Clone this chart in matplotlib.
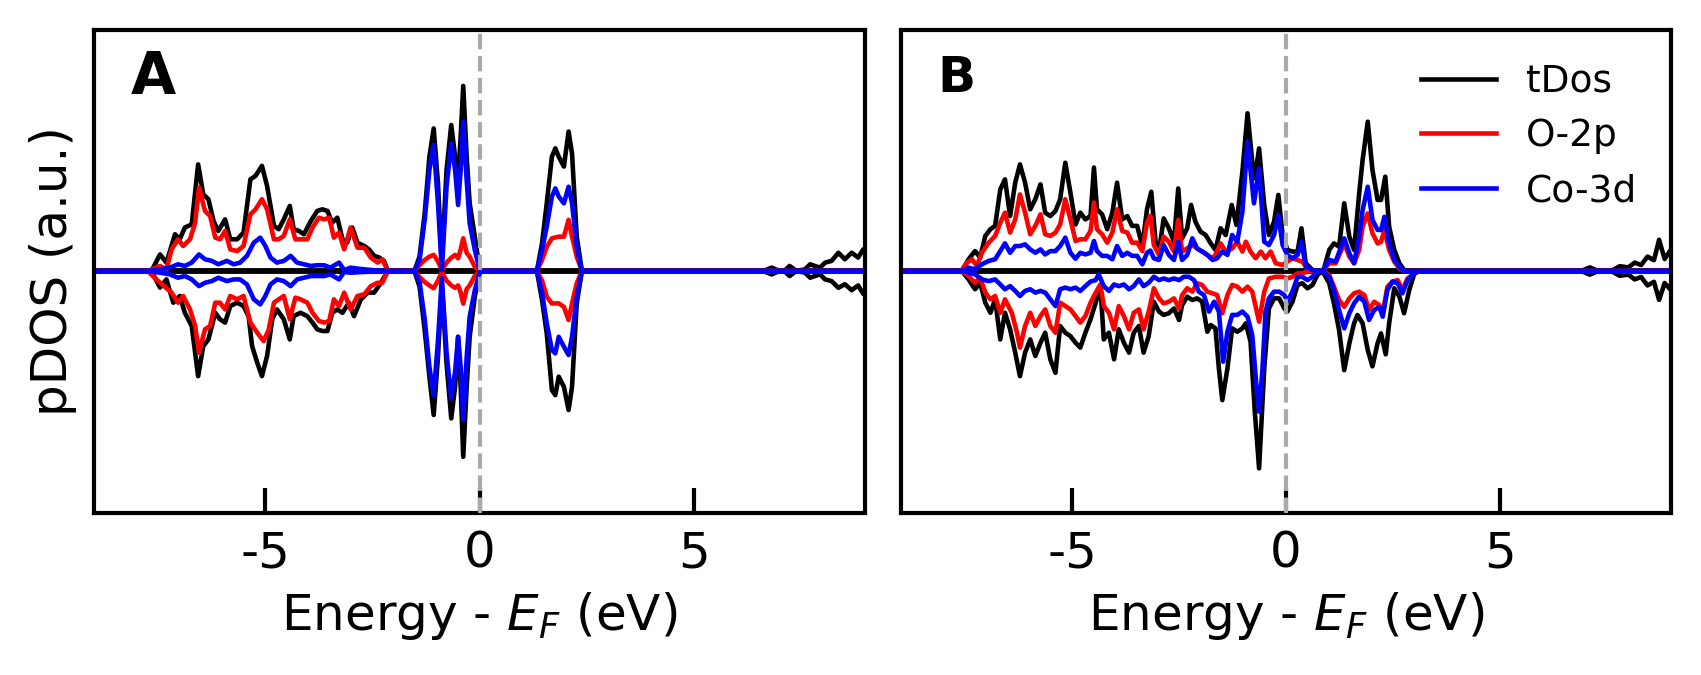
import matplotlib.pyplot as plt
import numpy as np

plt.rcParams['axes.unicode_minus'] = False
plt.rcParams['font.family'] = 'DejaVu Sans'

# ---------------- panel A : (energy eV, pDOS a.u.) ----------------
a_tdos_up = [(-9.0, 0), (-7.75, 0), (-7.66, 0), (-7.46, 0.69), (-7.31, 0.35), (-7.11, 1.53), (-7.00, 1.32),
             (-6.88, 1.81), (-6.72, 1.94), (-6.57, 4.44), (-6.45, 3.19), (-6.33, 2.99), (-6.21, 2.08),
             (-6.10, 1.67), (-5.94, 2.15), (-5.82, 1.32), (-5.66, 1.32), (-5.51, 1.60), (-5.35, 3.82),
             (-5.23, 3.96), (-5.08, 4.38), (-4.96, 3.54), (-4.80, 1.88), (-4.69, 1.74), (-4.57, 2.15),
             (-4.43, 2.71), (-4.34, 1.74), (-4.22, 1.67), (-4.10, 1.53), (-3.94, 2.08), (-3.79, 2.50),
             (-3.67, 2.57), (-3.55, 2.50), (-3.44, 2.01), (-3.32, 2.22), (-3.20, 1.32), (-3.09, 1.18),
             (-2.97, 1.81), (-2.85, 1.18), (-2.69, 1.04), (-2.58, 0.90), (-2.46, 0.63), (-2.34, 0.56),
             (-2.23, 0.42), (-2.14, 0),
             (-1.52, 0), (-1.40, 0.60), (-1.28, 2.40), (-1.17, 4.76), (-1.07, 5.94), (-0.97, 3.65),
             (-0.88, 0.32), (-0.77, 4.21), (-0.66, 6.08), (-0.57, 4.76), (-0.50, 3.79), (-0.44, 5.60),
             (-0.38, 7.71), (-0.30, 4.76), (-0.23, 2.82), (-0.11, 1.43), (0.01, 0),
             (1.34, 0), (1.46, 1.15), (1.57, 2.82), (1.69, 4.76), (1.77, 5.11), (1.85, 4.76), (1.97, 4.35),
             (2.08, 5.81), (2.16, 4.90), (2.27, 1.43), (2.39, 0),
             (6.62, 0), (6.82, 0.14), (7.01, 0), (7.13, 0.03), (7.24, 0.21), (7.40, 0), (7.60, 0.07),
             (7.72, 0.28), (7.83, 0.21), (7.95, 0.14), (8.07, 0.35), (8.22, 0.42), (8.38, 0.76),
             (8.53, 0.49), (8.69, 0.76), (8.84, 0.56), (8.96, 0.90), (9.08, 0.90)]
a_tdos_dn = [(-9.0, 0), (-7.75, 0), (-7.66, 0), (-7.46, -0.69), (-7.31, -0.35), (-7.15, -1.32), (-7.00, -1.04),
             (-6.88, -1.74), (-6.72, -2.29), (-6.57, -4.38), (-6.45, -3.13), (-6.33, -2.85), (-6.17, -1.74),
             (-6.06, -2.01), (-5.94, -2.15), (-5.82, -1.46), (-5.66, -1.32), (-5.51, -1.46), (-5.39, -1.90),
             (-5.31, -3.13), (-5.19, -3.82), (-5.08, -4.38), (-4.96, -3.54), (-4.84, -2.01), (-4.73, -1.60),
             (-4.57, -2.01), (-4.43, -2.85), (-4.34, -1.88), (-4.18, -1.74), (-4.02, -1.88), (-3.90, -2.15),
             (-3.79, -2.43), (-3.67, -2.50), (-3.55, -2.50), (-3.44, -1.74), (-3.32, -1.60), (-3.20, -1.74),
             (-3.05, -1.32), (-2.93, -1.88), (-2.77, -1.18), (-2.61, -0.90), (-2.46, -0.90), (-2.30, -0.49),
             (-2.14, 0),
             (-1.52, 0), (-1.40, -0.65), (-1.28, -2.46), (-1.17, -4.40), (-1.07, -6.00), (-0.97, -3.57),
             (-0.88, -0.51), (-0.77, -3.85), (-0.66, -6.14), (-0.57, -4.82), (-0.50, -2.74), (-0.44, -4.82),
             (-0.38, -7.74), (-0.30, -4.82), (-0.23, -2.74), (-0.11, -1.07), (0.01, 0),
             (1.34, 0), (1.46, -1.21), (1.57, -2.60), (1.69, -4.96), (1.77, -5.17), (1.85, -4.40),
             (1.97, -4.82), (2.08, -5.79), (2.16, -4.82), (2.27, -1.35), (2.39, 0),
             (6.62, 0), (6.82, -0.14), (7.01, 0), (7.13, -0.03), (7.24, -0.21), (7.40, 0), (7.60, -0.07),
             (7.72, -0.28), (7.83, -0.21), (7.95, -0.14), (8.07, -0.35), (8.22, -0.42), (8.38, -0.70),
             (8.53, -0.55), (8.69, -0.80), (8.84, -0.60), (8.96, -0.95), (9.08, -0.95)]
a_o2p_up = [(-9.0, 0), (-7.75, 0), (-7.46, 0.21), (-7.31, 0.07), (-7.19, 0.90), (-7.04, 1.32), (-6.92, 1.04),
            (-6.76, 1.32), (-6.64, 2.01), (-6.55, 3.47), (-6.41, 2.50), (-6.29, 2.29), (-6.17, 1.39),
            (-6.06, 1.32), (-5.94, 1.67), (-5.82, 0.90), (-5.66, 0.83), (-5.51, 1.04), (-5.35, 2.36),
            (-5.23, 2.57), (-5.08, 2.99), (-4.96, 2.57), (-4.80, 1.32), (-4.69, 1.32), (-4.57, 1.46),
            (-4.43, 2.15), (-4.30, 1.32), (-4.18, 1.32), (-4.02, 1.32), (-3.90, 1.81), (-3.75, 2.22),
            (-3.63, 2.15), (-3.51, 2.22), (-3.40, 1.39), (-3.28, 1.60), (-3.16, 0.90), (-3.01, 1.81),
            (-2.85, 0.97), (-2.69, 0.97), (-2.54, 0.56), (-2.38, 0.35), (-2.27, 0.49), (-2.14, 0),
            (-1.52, 0), (-1.40, 0.25), (-1.28, 0.46), (-1.17, 0.60), (-1.07, 0.67), (-0.97, 0.40),
            (-0.88, 0.04), (-0.77, 0.35), (-0.66, 0.55), (-0.57, 0.67), (-0.50, 0.53), (-0.44, 0.90),
            (-0.38, 1.36), (-0.30, 0.75), (-0.23, 0.60), (-0.11, 0.18), (0.01, 0),
            (1.34, 0), (1.46, 0.46), (1.57, 1.01), (1.69, 1.36), (1.77, 1.40), (1.85, 1.43), (1.97, 1.43),
            (2.08, 2.13), (2.16, 1.43), (2.27, 0.60), (2.39, 0), (9.0, 0)]
a_o2p_dn = [(-9.0, 0), (-7.75, 0), (-7.46, -0.49), (-7.19, -0.90), (-7.04, -1.32), (-6.92, -1.04), (-6.76, -1.60),
            (-6.64, -2.29), (-6.55, -3.40), (-6.41, -2.43), (-6.29, -2.29), (-6.17, -1.32), (-6.06, -1.32),
            (-5.94, -1.60), (-5.82, -1.04), (-5.66, -1.18), (-5.51, -1.04), (-5.35, -2.15), (-5.19, -2.57),
            (-5.04, -2.92), (-4.92, -2.43), (-4.80, -1.32), (-4.69, -1.18), (-4.57, -1.04), (-4.43, -2.01),
            (-4.30, -1.11), (-4.18, -1.18), (-4.02, -1.32), (-3.90, -1.74), (-3.75, -2.08), (-3.63, -2.15),
            (-3.51, -2.08), (-3.40, -1.18), (-3.28, -1.46), (-3.16, -0.90), (-3.01, -1.60), (-2.85, -1.04),
            (-2.69, -0.97), (-2.54, -0.63), (-2.38, -0.49), (-2.27, -0.49), (-2.14, 0),
            (-1.52, 0), (-1.40, -0.25), (-1.28, -0.46), (-1.17, -0.60), (-1.07, -0.72), (-0.97, -0.40),
            (-0.88, -0.04), (-0.77, -0.40), (-0.66, -0.60), (-0.57, -0.70), (-0.50, -0.60), (-0.44, -0.90),
            (-0.38, -1.36), (-0.30, -0.75), (-0.23, -0.60), (-0.11, -0.20), (0.01, 0),
            (1.34, 0), (1.46, -0.40), (1.57, -1.07), (1.69, -1.35), (1.77, -1.35), (1.85, -1.35),
            (1.97, -1.49), (2.08, -2.04), (2.16, -1.35), (2.27, -0.51), (2.39, 0), (9.0, 0)]
a_co3d_up = [(-9.0, 0), (-7.75, 0), (-7.46, 0.07), (-7.23, 0.14), (-7.04, 0.28), (-6.88, 0.21), (-6.72, 0.35),
             (-6.55, 0.69), (-6.41, 0.49), (-6.25, 0.42), (-6.10, 0.28), (-5.90, 0.42), (-5.74, 0.28),
             (-5.59, 0.35), (-5.43, 0.63), (-5.27, 1.18), (-5.12, 1.39), (-5.00, 1.04), (-4.88, 0.56),
             (-4.73, 0.35), (-4.57, 0.42), (-4.41, 0.63), (-4.26, 0.35), (-4.10, 0.28), (-3.94, 0.21),
             (-3.79, 0.24), (-3.63, 0.24), (-3.48, 0.14), (-3.28, 0.35), (-3.16, 0.04), (-3.01, 0.14),
             (-2.85, 0.10), (-2.69, 0.07), (-2.46, 0.03), (-2.14, 0),
             (-1.52, 0), (-1.40, 0.46), (-1.28, 2.13), (-1.17, 4.21), (-1.07, 5.25), (-0.97, 2.82),
             (-0.88, 0.04), (-0.77, 3.51), (-0.66, 5.32), (-0.57, 4.21), (-0.50, 2.75), (-0.44, 4.21),
             (-0.38, 6.22), (-0.30, 3.79), (-0.23, 1.99), (-0.11, 0.88), (0.01, 0),
             (1.34, 0), (1.46, 0.88), (1.57, 1.85), (1.69, 3.10), (1.77, 3.44), (1.85, 3.10), (1.97, 2.82),
             (2.08, 3.51), (2.16, 2.82), (2.27, 1.01), (2.39, 0), (9.0, 0)]
a_co3d_dn = [(-9.0, 0), (-7.75, 0), (-7.46, -0.07), (-7.23, -0.14), (-7.04, -0.28), (-6.88, -0.21), (-6.72, -0.35),
             (-6.55, -0.63), (-6.41, -0.49), (-6.25, -0.42), (-6.10, -0.28), (-5.90, -0.42), (-5.74, -0.35),
             (-5.59, -0.35), (-5.43, -0.56), (-5.27, -1.18), (-5.12, -1.39), (-5.00, -1.04), (-4.88, -0.56),
             (-4.73, -0.35), (-4.57, -0.42), (-4.41, -0.63), (-4.26, -0.35), (-4.10, -0.28), (-3.94, -0.21),
             (-3.79, -0.21), (-3.63, -0.21), (-3.48, -0.14), (-3.28, -0.35), (-3.16, -0.04), (-3.01, -0.07),
             (-2.69, -0.04), (-2.14, 0),
             (-1.52, 0), (-1.40, -0.46), (-1.28, -2.00), (-1.17, -4.00), (-1.07, -5.17), (-0.97, -2.90),
             (-0.88, -0.30), (-0.77, -3.40), (-0.66, -5.31), (-0.57, -4.20), (-0.50, -2.74), (-0.44, -4.00),
             (-0.38, -6.21), (-0.30, -3.60), (-0.23, -1.90), (-0.11, -0.80), (0.01, 0),
             (1.34, 0), (1.46, -0.90), (1.57, -2.18), (1.69, -3.29), (1.77, -3.43), (1.85, -2.74),
             (1.97, -3.15), (2.08, -3.50), (2.16, -2.74), (2.27, -1.07), (2.39, 0), (9.0, 0)]

# ---------------- panel B ----------------
b_tdos_up = [(-9.0, 0), (-7.58, 0), (-7.42, 0.49), (-7.27, 0.83), (-7.15, 0.56), (-7.03, 1.46), (-6.91, 1.74),
             (-6.80, 1.88), (-6.68, 3.40), (-6.57, 3.82), (-6.45, 2.29), (-6.33, 3.68), (-6.22, 4.44),
             (-6.10, 3.68), (-5.98, 2.57), (-5.86, 2.99), (-5.74, 3.61), (-5.63, 2.43), (-5.51, 2.29),
             (-5.39, 2.50), (-5.28, 2.99), (-5.16, 4.51), (-5.04, 3.26), (-4.92, 1.94), (-4.81, 2.43),
             (-4.69, 2.15), (-4.57, 2.29), (-4.49, 4.31), (-4.42, 2.57), (-4.30, 2.36), (-4.18, 1.74),
             (-4.06, 2.43), (-3.95, 3.68), (-3.83, 2.15), (-3.71, 2.29), (-3.60, 1.88), (-3.48, 1.88),
             (-3.36, 1.04), (-3.25, 2.57), (-3.15, 3.30), (-3.05, 1.22), (-2.97, 0.81), (-2.86, 2.19),
             (-2.74, 1.78), (-2.62, 1.22), (-2.52, 3.44), (-2.43, 1.36), (-2.31, 1.78), (-2.22, 2.75),
             (-2.12, 2.06), (-2.00, 1.64), (-1.88, 1.50), (-1.76, 1.15), (-1.65, 0.88), (-1.53, 1.78),
             (-1.41, 1.50), (-1.27, 2.75), (-1.16, 1.92), (-1.02, 4.14), (-0.90, 6.57), (-0.79, 4.56),
             (-0.73, 3.86), (-0.63, 5.11), (-0.51, 2.75), (-0.40, 1.50), (-0.28, 2.06), (-0.18, 3.17),
             (-0.08, 1.50), (0.03, 0.88), (0.15, 0.81), (0.27, 0.81), (0.36, 1.78), (0.46, 0.32),
             (0.62, 0.04), (0.73, 0), (0.85, 0), (0.89, 0.11), (1.01, 0.88), (1.12, 1.15), (1.24, 1.01),
             (1.36, 2.82), (1.48, 1.43), (1.59, 0.88), (1.71, 3.24), (1.79, 4.63), (1.91, 6.22), (2.02, 4.21),
             (2.14, 2.96), (2.22, 2.96), (2.32, 3.93), (2.41, 1.85), (2.53, 0.88), (2.65, 0.32), (2.76, 0.04),
             (2.88, 0),
             (6.90, 0), (7.10, 0.15), (7.30, 0), (7.60, 0), (7.80, 0.20), (8.00, 0.15), (8.15, 0.35),
             (8.30, 0.25), (8.45, 0.60), (8.60, 0.45), (8.72, 1.30), (8.85, 0.50), (9.00, 0.90)]
b_tdos_dn = [(-9.0, 0), (-7.58, 0), (-7.42, -0.35), (-7.27, -0.76), (-7.15, -0.49), (-7.03, -1.32), (-6.91, -1.74),
             (-6.80, -1.18), (-6.68, -2.85), (-6.57, -1.74), (-6.45, -2.43), (-6.33, -3.40), (-6.22, -4.38),
             (-6.10, -3.40), (-5.98, -2.85), (-5.86, -3.54), (-5.74, -2.99), (-5.63, -2.57), (-5.51, -3.68),
             (-5.39, -4.24), (-5.28, -2.29), (-5.16, -2.57), (-5.04, -2.71), (-4.92, -2.99), (-4.81, -3.19),
             (-4.69, -2.57), (-4.57, -2.01), (-4.45, -1.32), (-4.34, -0.63), (-4.26, -2.85), (-4.14, -2.57),
             (-4.02, -3.68), (-3.91, -2.43), (-3.79, -2.99), (-3.67, -3.40), (-3.56, -2.57), (-3.44, -2.29),
             (-3.33, -3.40), (-3.21, -2.71), (-3.09, -1.28), (-2.97, -1.69), (-2.86, -1.83), (-2.74, -1.76),
             (-2.62, -1.56), (-2.50, -2.04), (-2.43, -1.42), (-2.31, -1.07), (-2.19, -1.21), (-2.08, -1.14),
             (-1.96, -1.28), (-1.84, -2.53), (-1.76, -2.25), (-1.65, -2.39), (-1.57, -4.06), (-1.49, -5.38),
             (-1.37, -4.06), (-1.26, -2.39), (-1.14, -2.53), (-1.02, -2.39), (-0.94, -2.18), (-0.83, -2.94),
             (-0.73, -5.86), (-0.63, -8.22), (-0.51, -4.06), (-0.40, -1.56), (-0.28, -1.14), (-0.16, -1.14),
             (-0.04, -1.56), (0.03, -1.69), (0.15, -1.28), (0.27, -0.58), (0.38, -0.51), (0.50, -0.72),
             (0.62, -0.58), (0.73, -0.17), (0.85, 0), (1.01, -0.51), (1.12, -1.35), (1.24, -2.46),
             (1.36, -4.13), (1.48, -3.01), (1.59, -2.18), (1.67, -1.83), (1.79, -2.18), (1.91, -3.29),
             (2.02, -3.97), (2.14, -3.01), (2.22, -2.60), (2.33, -3.47), (2.41, -2.18), (2.53, -0.72),
             (2.65, -1.07), (2.76, -1.76), (2.88, -0.79), (3.00, -0.10), (3.11, 0),
             (6.90, 0), (7.10, -0.15), (7.30, 0), (7.60, 0), (7.80, -0.20), (8.00, -0.15), (8.15, -0.35),
             (8.30, -0.25), (8.45, -0.60), (8.60, -0.45), (8.72, -1.20), (8.85, -0.50), (9.00, -0.80)]
b_o2p_up = [(-9.0, 0), (-7.58, 0), (-7.46, 0.35), (-7.34, 0.49), (-7.23, 0.21), (-7.11, 0.76), (-6.95, 1.18),
            (-6.80, 1.46), (-6.68, 2.01), (-6.57, 2.43), (-6.45, 1.60), (-6.33, 2.15), (-6.22, 3.19),
            (-6.10, 2.43), (-5.98, 1.53), (-5.86, 1.88), (-5.74, 2.36), (-5.63, 1.53), (-5.51, 1.46),
            (-5.39, 1.60), (-5.28, 1.94), (-5.16, 2.99), (-5.04, 2.15), (-4.92, 1.25), (-4.81, 1.32),
            (-4.69, 1.32), (-4.57, 1.67), (-4.49, 2.85), (-4.42, 1.74), (-4.30, 1.53), (-4.18, 1.18),
            (-4.06, 1.60), (-3.95, 2.57), (-3.83, 1.67), (-3.71, 1.60), (-3.60, 1.18), (-3.48, 1.18),
            (-3.36, 0.83), (-3.25, 2.01), (-3.17, 2.30), (-3.09, 1.08), (-2.97, 0.67), (-2.86, 1.43),
            (-2.74, 1.22), (-2.62, 0.81), (-2.52, 2.13), (-2.43, 0.81), (-2.31, 0.94), (-2.19, 1.08),
            (-2.08, 0.94), (-1.96, 0.81), (-1.84, 0.67), (-1.72, 0.53), (-1.65, 0.67), (-1.53, 1.15),
            (-1.41, 0.81), (-1.26, 0.94), (-1.14, 1.22), (-1.02, 0.81), (-0.94, 1.22), (-0.83, 0.81),
            (-0.71, 0.53), (-0.59, 0.81), (-0.48, 0.53), (-0.36, 0.81), (-0.24, 0.32), (-0.08, 0.25),
            (0.03, 0.39), (0.15, 0.53), (0.38, 0.39), (0.54, 0), (0.85, 0), (1.01, 0.32), (1.16, 0.32),
            (1.36, 1.15), (1.48, 0.60), (1.59, 0.32), (1.71, 0.88), (1.79, 1.85), (1.91, 2.40), (2.02, 1.57),
            (2.14, 1.15), (2.22, 1.22), (2.30, 1.71), (2.41, 0.88), (2.53, 0.39), (2.65, 0.11), (2.76, 0),
            (9.0, 0)]
b_o2p_dn = [(-9.0, 0), (-7.58, 0), (-7.42, -0.21), (-7.27, -0.49), (-7.15, -0.28), (-7.03, -0.90), (-6.91, -1.18),
            (-6.80, -1.04), (-6.68, -1.74), (-6.57, -1.18), (-6.41, -1.74), (-6.29, -2.57), (-6.22, -3.19),
            (-6.10, -2.29), (-5.98, -1.74), (-5.86, -2.29), (-5.74, -1.88), (-5.63, -1.60), (-5.51, -2.29),
            (-5.39, -2.57), (-5.28, -1.32), (-5.16, -1.46), (-5.04, -1.60), (-4.92, -1.88), (-4.81, -2.15),
            (-4.69, -1.88), (-4.57, -1.32), (-4.45, -0.90), (-4.34, -0.56), (-4.26, -1.46), (-4.14, -1.74),
            (-4.02, -2.43), (-3.91, -1.46), (-3.79, -1.88), (-3.67, -2.43), (-3.56, -1.74), (-3.44, -1.60),
            (-3.33, -2.43), (-3.21, -1.69), (-3.09, -0.72), (-2.97, -1.14), (-2.86, -1.35), (-2.74, -1.28),
            (-2.62, -1.14), (-2.50, -1.56), (-2.43, -1.00), (-2.31, -0.72), (-2.19, -0.86), (-2.08, -0.51),
            (-1.96, -0.58), (-1.84, -0.86), (-1.72, -0.93), (-1.61, -1.00), (-1.49, -1.76), (-1.37, -1.00),
            (-1.26, -0.58), (-1.14, -0.65), (-1.02, -0.86), (-0.90, -0.65), (-0.79, -0.86), (-0.63, -2.11),
            (-0.51, -0.86), (-0.40, -0.31), (-0.24, -0.24), (-0.08, -0.24), (0.03, -0.31), (0.15, -0.24),
            (0.27, -0.10), (0.38, -0.10), (0.54, 0), (0.85, 0), (1.01, -0.17), (1.12, -0.65), (1.24, -1.21),
            (1.36, -1.49), (1.48, -1.14), (1.59, -0.93), (1.71, -0.86), (1.83, -1.00), (1.94, -1.63),
            (2.06, -1.28), (2.18, -1.42), (2.26, -1.76), (2.37, -0.65), (2.49, -0.44), (2.61, -0.38),
            (2.72, -0.79), (2.84, -0.31), (3.00, -0.10), (3.11, 0), (9.0, 0)]
b_co3d_up = [(-9.0, 0), (-7.58, 0), (-7.42, 0.14), (-7.27, 0.07), (-7.11, 0.28), (-6.95, 0.42), (-6.80, 0.49),
             (-6.68, 0.83), (-6.57, 1.15), (-6.45, 0.76), (-6.33, 1.04), (-6.22, 1.04), (-6.10, 1.11),
             (-5.98, 0.90), (-5.86, 0.76), (-5.74, 0.90), (-5.63, 0.69), (-5.51, 0.83), (-5.39, 0.83),
             (-5.28, 1.04), (-5.16, 1.39), (-5.04, 0.76), (-4.92, 0.51), (-4.81, 0.76), (-4.69, 0.69),
             (-4.57, 0.76), (-4.49, 1.25), (-4.42, 0.83), (-4.30, 0.63), (-4.18, 0.63), (-4.06, 0.49),
             (-3.95, 1.04), (-3.83, 0.63), (-3.71, 0.76), (-3.60, 0.63), (-3.48, 0.63), (-3.36, 0.28),
             (-3.25, 0.76), (-3.17, 0.85), (-3.09, 0.53), (-2.97, 0.46), (-2.86, 1.08), (-2.74, 0.67),
             (-2.62, 0.46), (-2.52, 1.22), (-2.43, 0.46), (-2.31, 0.67), (-2.19, 1.36), (-2.08, 0.94),
             (-1.96, 0.81), (-1.84, 0.67), (-1.72, 0.46), (-1.61, 0.53), (-1.49, 0.81), (-1.37, 0.67),
             (-1.26, 1.50), (-1.14, 1.22), (-1.02, 2.47), (-0.90, 5.39), (-0.75, 2.82), (-0.63, 4.28),
             (-0.51, 1.22), (-0.40, 1.08), (-0.28, 1.50), (-0.18, 2.33), (-0.08, 1.08), (0.03, 0.67),
             (0.15, 0.53), (0.27, 0.67), (0.36, 1.22), (0.46, 0.18), (0.62, 0.04), (0.73, 0), (0.85, 0),
             (1.01, 0.46), (1.16, 0.39), (1.36, 1.36), (1.48, 0.74), (1.59, 0.32), (1.71, 1.43), (1.79, 2.54),
             (1.91, 3.51), (2.02, 2.13), (2.14, 1.71), (2.22, 1.71), (2.30, 2.26), (2.41, 1.15), (2.53, 0.46),
             (2.65, 0.18), (2.76, 0), (9.0, 0)]
b_co3d_dn = [(-9.0, 0), (-7.58, 0), (-7.42, -0.07), (-7.27, -0.14), (-7.11, -0.35), (-6.95, -0.42), (-6.80, -0.35),
             (-6.68, -0.56), (-6.57, -0.76), (-6.45, -0.63), (-6.33, -0.83), (-6.22, -1.04), (-6.10, -0.83),
             (-5.98, -0.76), (-5.86, -0.90), (-5.74, -0.83), (-5.63, -0.90), (-5.51, -1.18), (-5.39, -1.46),
             (-5.28, -0.76), (-5.16, -0.69), (-5.04, -0.76), (-4.92, -0.69), (-4.81, -0.83), (-4.69, -0.63),
             (-4.57, -0.44), (-4.45, -0.38), (-4.38, -0.14), (-4.26, -0.63), (-4.14, -0.83), (-4.02, -0.56),
             (-3.91, -0.63), (-3.79, -0.56), (-3.67, -0.76), (-3.56, -0.63), (-3.44, -0.35), (-3.33, -0.63),
             (-3.21, -0.49), (-3.09, -0.24), (-2.97, -0.38), (-2.86, -0.31), (-2.74, -0.38), (-2.62, -0.31),
             (-2.50, -0.38), (-2.39, -0.24), (-2.27, -0.24), (-2.15, -0.38), (-2.04, -0.86), (-1.92, -1.00),
             (-1.80, -1.69), (-1.68, -1.28), (-1.57, -1.69), (-1.47, -3.78), (-1.37, -2.53), (-1.26, -1.83),
             (-1.14, -1.83), (-1.02, -1.69), (-0.90, -1.90), (-0.79, -2.67), (-0.70, -4.61), (-0.63, -5.86),
             (-0.55, -4.06), (-0.48, -1.69), (-0.40, -1.14), (-0.28, -0.86), (-0.16, -0.86), (-0.04, -1.00),
             (0.03, -1.28), (0.15, -0.86), (0.27, -0.24), (0.38, -0.24), (0.50, -0.38), (0.62, -0.24),
             (0.73, 0), (0.85, 0), (1.01, -0.24), (1.12, -0.79), (1.24, -1.63), (1.36, -2.39), (1.48, -1.76),
             (1.59, -1.35), (1.71, -1.07), (1.83, -1.28), (1.94, -2.04), (2.06, -1.63), (2.18, -1.49),
             (2.26, -1.90), (2.37, -0.79), (2.49, -0.44), (2.61, -0.51), (2.72, -0.93), (2.84, -0.38),
             (3.00, -0.10), (3.11, 0), (9.0, 0)]

labels = ['tDos', 'O-2p', 'Co-3d']
colors = ['black', 'red', 'blue']
xticks = [-5, 0, 5]


def draw_panel(ax, ups, downs, letter, letter_size, letter_y):
    ax.axhline(0, color='black', lw=1.4, zorder=1)
    for up, dn, c, lab in zip(ups, downs, colors, labels):
        e, v = np.array(up).T
        ax.plot(e, v, color=c, lw=1.1, label=lab, zorder=2, solid_joinstyle='round')
        e, v = np.array(dn).T
        ax.plot(e, v, color=c, lw=1.1, zorder=2, solid_joinstyle='round')
    ax.axvline(0, color='darkgray', ls='--', lw=1.0, zorder=5)
    ax.set_xlim(-9, 9)
    ax.set_ylim(-10.08, 10.04)
    ax.set_xticks(xticks)
    ax.set_yticks([])
    ax.tick_params(axis='x', direction='in', length=6, width=1, labelsize=12, pad=4)
    ax.set_xlabel('Energy - $E_F$ (eV)', fontsize=12, labelpad=3)
    for s in ax.spines.values():
        s.set_linewidth(1.0)
    ax.text(0.047, letter_y, letter, transform=ax.transAxes, fontsize=letter_size,
            fontweight='bold', va='top', ha='left')


fig = plt.figure(figsize=(5.67, 2.25), dpi=300)
ax1 = fig.add_axes([0.0553, 0.24, 0.4532, 0.7156])
ax2 = fig.add_axes([0.5297, 0.24, 0.4527, 0.7156])

draw_panel(ax1, [a_tdos_up, a_o2p_up, a_co3d_up], [a_tdos_dn, a_o2p_dn, a_co3d_dn], 'A', 14, 0.96)
draw_panel(ax2, [b_tdos_up, b_o2p_up, b_co3d_up], [b_tdos_dn, b_o2p_dn, b_co3d_dn], 'B', 12, 0.95)
ax1.set_ylabel('pDOS (a.u.)', fontsize=12)
ax2.legend(loc='upper right', frameon=False, fontsize=9)

fig.savefig('out.png', dpi=300)
